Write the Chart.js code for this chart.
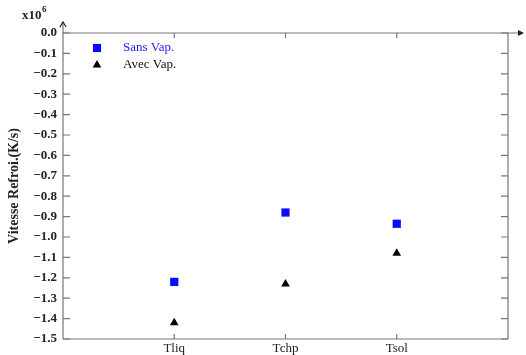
<!DOCTYPE html>
<html>
<head>
<meta charset="utf-8">
<script src="https://cdn.jsdelivr.net/npm/chart.js@4/dist/chart.umd.min.js"></script>
<style>
  html, body { margin: 0; padding: 0; background: #fff; }
  #wrap { width: 526px; height: 355px; }
</style>
</head>
<body>
<div id="wrap"><canvas id="graf"></canvas></div>
<script>
// categories on the x axis (placed at 1, 2, 3)
var categories = ["Tliq", "Tchp", "Tsol"];
// values in units of 10^6 K/s
var sansVap = [-1.22, -0.88, -0.935];
var avecVap = [-1.42, -1.23, -1.08];
var seriesNames = ["Sans Vap.", "Avec Vap."];
var yTicks = [0.0, -0.1, -0.2, -0.3, -0.4, -0.5, -0.6, -0.7, -0.8, -0.9, -1.0, -1.1, -1.2, -1.3, -1.4, -1.5];

var serif = "'Liberation Serif', 'Times New Roman', serif";
var axisColor = "#777";

function toPoints(arr) {
    var pts = [];
    for (var i = 0; i < arr.length; i++) {
        pts.push({x: i + 1, y: arr[i]});
    }
    return pts;
}

function fmt(v) {
    var s = Math.abs(v).toFixed(1);
    return v < -1e-9 ? "\u2212" + s : s;
}

// frame, inward ticks, arrows, legend and the x10^6 label
var framePlugin = {
    id: "frame",
    afterDraw: function(chart) {
        var ctx = chart.ctx;
        var a = chart.chartArea;
        var xs = chart.scales.x, ys = chart.scales.y;
        ctx.save();
        ctx.strokeStyle = axisColor;
        ctx.fillStyle = axisColor;
        ctx.lineWidth = 1.2;

        ctx.beginPath();
        // left axis going up to arrow
        ctx.moveTo(a.left, a.bottom);
        ctx.lineTo(a.left, a.top - 10);
        // bottom axis
        ctx.moveTo(a.left, a.bottom);
        ctx.lineTo(a.right, a.bottom);
        // right axis
        ctx.moveTo(a.right, a.bottom);
        ctx.lineTo(a.right, a.top);
        // top line going right to arrow
        ctx.moveTo(a.left, a.top);
        ctx.lineTo(a.right + 14, a.top);
        ctx.stroke();

        // arrow heads
        ctx.strokeStyle = "#222";
        ctx.beginPath();
        ctx.moveTo(a.left - 3, a.top - 6);
        ctx.lineTo(a.left, a.top - 11);
        ctx.lineTo(a.left + 3, a.top - 6);
        ctx.stroke();
        ctx.fillStyle = "#222";
        ctx.beginPath();
        ctx.moveTo(a.right + 16, a.top);
        ctx.lineTo(a.right + 10, a.top - 3);
        ctx.lineTo(a.right + 10, a.top + 3);
        ctx.closePath();
        ctx.fill();

        // y ticks, inside on both sides
        ctx.strokeStyle = axisColor;
        ctx.beginPath();
        for (var i = 0; i < yTicks.length; i++) {
            var py = ys.getPixelForValue(yTicks[i]);
            ctx.moveTo(a.left, py);
            ctx.lineTo(a.left + 7, py);
            ctx.moveTo(a.right, py);
            ctx.lineTo(a.right - 7, py);
        }
        // x ticks, inside top and bottom
        for (var j = 0; j < categories.length; j++) {
            var px = xs.getPixelForValue(j + 1);
            ctx.moveTo(px, a.bottom);
            ctx.lineTo(px, a.bottom - 5);
            ctx.moveTo(px, a.top);
            ctx.lineTo(px, a.top + 5);
        }
        ctx.stroke();

        // x10^6
        ctx.fillStyle = "#222";
        ctx.textBaseline = "alphabetic";
        ctx.textAlign = "left";
        ctx.font = "bold 13px " + serif;
        ctx.fillText("x10", 22, 19);
        ctx.font = "bold 9px " + serif;
        ctx.fillText("6", 42, 12);

        // legend
        var ds = chart.data.datasets;
        var lx = 97, ly = [48, 65];
        for (var k = 0; k < ds.length; k++) {
            ctx.fillStyle = ds[k].backgroundColor;
            Chart.helpers.drawPoint(ctx, {pointStyle: ds[k].pointStyle, radius: ds[k].pointRadius, borderWidth: 0}, lx, ly[k]);
            ctx.font = "13px " + serif;
            ctx.textBaseline = "middle";
            ctx.fillStyle = k === 0 ? "#1a1aff" : "#111";
            ctx.fillText(ds[k].label, 123, ly[k]);
        }
        ctx.restore();
    }
};

var chart = new Chart(document.getElementById("graf").getContext("2d"), {
    type: "scatter",
    data: {
        datasets: [{
            label: seriesNames[0],
            data: toPoints(sansVap),
            pointStyle: "rect",
            pointRadius: 5.8,
            pointHoverRadius: 5.8,
            backgroundColor: "#0a0aff",
            borderColor: "#0a0aff",
            borderWidth: 0
        }, {
            label: seriesNames[1],
            data: toPoints(avecVap),
            pointStyle: "triangle",
            pointRadius: 5,
            pointHoverRadius: 5,
            backgroundColor: "#000",
            borderColor: "#000",
            borderWidth: 0
        }]
    },
    options: {
        responsive: true,
        maintainAspectRatio: false,
        animation: false,
        layout: {padding: {top: 33, right: 18, left: 0, bottom: 0}},
        plugins: {legend: {display: false}, tooltip: {enabled: false}},
        scales: {
            x: {
                type: "linear",
                min: 0,
                max: 4,
                afterBuildTicks: function(scale) {
                    scale.ticks = categories.map(function(c, i) { return {value: i + 1}; });
                },
                afterFit: function(scale) { scale.height = 16; },
                grid: {display: false, drawTicks: false},
                border: {display: false},
                ticks: {
                    padding: 2,
                    color: "#222",
                    font: {family: serif, size: 13},
                    callback: function(v) { return categories[v - 1]; }
                }
            },
            y: {
                type: "linear",
                min: -1.5,
                max: 0,
                afterBuildTicks: function(scale) {
                    scale.ticks = yTicks.map(function(v) { return {value: v}; });
                },
                afterFit: function(scale) { scale.width = 63; },
                grid: {display: false, drawTicks: false},
                border: {display: false},
                title: {
                    display: true,
                    text: "Vitesse Refroi.(K/s)",
                    color: "#222",
                    font: {family: serif, size: 14, weight: "bold"},
                    padding: {top: 6, bottom: 0}
                },
                ticks: {
                    padding: 6,
                    color: "#222",
                    font: {family: serif, size: 13, weight: "bold"},
                    callback: function(v) { return fmt(v); }
                }
            }
        }
    },
    plugins: [framePlugin]
});
</script>
</body>
</html>
